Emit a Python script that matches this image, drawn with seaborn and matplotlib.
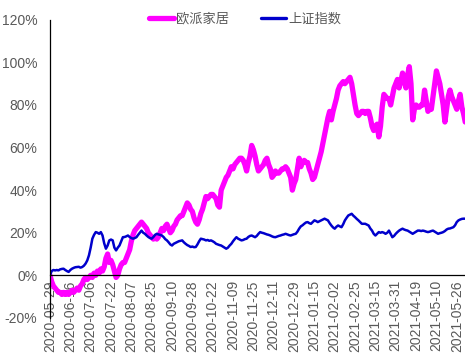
import matplotlib
matplotlib.use("Agg")
import matplotlib.pyplot as plt
import seaborn as sns
import pandas as pd
import numpy as np

# 欧派家居 cumulative return (%) per trading day
oupai = [
    0, -3, -5, -6, -7, -8, -8, -9, -8, -9,
    -8, -9, -8, -7, -8, -7, -6, -7, -5, -4,
    -2, -1, -2, -1, 0, -1, 1, 0, 2, 1,
    3, 2, 4, 8, 10, 6, 7, 5, 2, -1,
    0, 3, 5, 6, 6, 8, 10, 12, 16, 19,
    21, 22, 23, 24, 25, 24, 23, 22, 20, 19,
    18, 17, 18, 17, 18, 20, 22, 21, 23, 24,
    22, 20, 21, 23, 24, 26, 27, 28, 28, 30,
    32, 34, 33, 31, 30, 27, 25, 24, 26, 29,
    31, 34, 37, 36, 37, 38, 38, 37, 36, 33,
    32, 40, 42, 44, 46, 47, 49, 51, 50, 52,
    53, 54, 55, 55, 54, 52, 49, 53, 56, 61,
    59, 56, 52, 49, 50, 51, 52, 54, 55, 52,
    50, 46, 47, 49, 48, 48, 49, 50, 50, 51,
    50, 48, 46, 40, 43, 45, 50, 55, 51, 53,
    54, 53, 53, 50, 48, 45, 46, 49, 52, 55,
    58, 62, 66, 70, 74, 77, 73, 77, 80, 83,
    87, 89, 90, 91, 90, 91, 92, 93, 90, 85,
    80, 76, 75, 76, 77, 77, 76, 77, 77, 74,
    70, 68, 70, 71, 65, 70, 79, 85, 84, 83,
    83, 80, 84, 88, 90, 92, 88, 91, 95, 92,
    88, 94, 98, 90, 73, 78, 80, 79, 79, 80,
    80, 87, 82, 77, 78, 78, 84, 90, 96, 93,
    90, 85, 80, 72, 78, 84, 87, 84, 82, 80,
    78, 82, 85, 79, 76, 72,
]

# 上证指数 cumulative return (%) per trading day
shindex = [
    0, 2, 2.5, 2.3, 2.5, 2.3, 2.8, 3, 3.1, 2.5,
    2, 1.6, 2.5, 3.1, 3.5, 3.8, 3.9, 4, 3.6, 3.9,
    4.5, 5.5, 7, 9.4, 13, 17.2, 19, 20.3, 20, 19.5,
    20.3, 18.7, 15, 12.5, 14, 16.4, 16.8, 16.4, 13, 11.7,
    13, 14, 16, 17.9, 18, 18.3, 18.7, 18, 17.5, 17.2,
    17.5, 17.9, 19, 20, 21, 20, 19.5, 18.7, 18, 17.5,
    17.2, 18, 19, 19.5, 19.2, 19, 18.7, 18, 17, 16.4,
    15.5, 14.5, 14, 14.8, 15.2, 15.6, 16, 16.2, 16.4, 15.5,
    14.8, 14.2, 13.8, 13.3, 13.5, 13.2, 13.3, 14.5, 16, 17.2,
    17, 16.8, 16.4, 16.6, 16.2, 16.4, 16, 15.5, 14.8, 14.5,
    14.2, 14, 13.5, 13, 12.5, 13, 14, 14.8, 16, 17,
    17.9, 17.2, 16.8, 16.4, 16.6, 17, 17.2, 18, 18.5, 18.7,
    18.3, 17.9, 18.5, 19.5, 20.3, 20, 19.8, 19.5, 19.2, 19,
    18.7, 18.3, 18, 17.9, 18.2, 18.5, 18.7, 19, 19.2, 19.5,
    19.2, 18.9, 18.7, 19, 19.3, 19.5, 20.5, 21.9, 23, 23.5,
    24.2, 24.8, 25, 24.5, 24.2, 25, 25.8, 25.5, 25, 25.4,
    25.8, 26.2, 26.6, 26.2, 25.8, 24.5, 23.4, 22.5, 21.9, 22.8,
    23.4, 23, 22.6, 24, 25.8, 27, 28.1, 28.5, 28.9, 28,
    27.3, 26.5, 25.8, 25, 24.2, 24.2, 24.2, 23.8, 23.4, 22,
    21, 19.5, 18.7, 19.5, 20.3, 20, 20.3, 20, 19.5, 20,
    21, 19.5, 17.9, 18.5, 19.5, 20.3, 21, 21.5, 21.9, 21.5,
    21.2, 21, 20.5, 20, 19.5, 20, 20.5, 21, 21, 20.8,
    21, 20.8, 20.5, 20.3, 20.5, 20.8, 21, 20.5, 20, 19.5,
    19.8, 20, 20.3, 20.8, 21.5, 21.9, 22, 22.3, 22.6, 23.5,
    25, 25.8, 26.2, 26.5, 26.6, 26.6,
]

tick_labels = [
    "2020-05-29", "2020-06-16", "2020-07-06", "2020-07-22", "2020-08-07",
    "2020-08-25", "2020-09-10", "2020-09-28", "2020-10-22", "2020-11-09",
    "2020-11-25", "2020-12-11", "2020-12-29", "2021-01-15", "2021-02-02",
    "2021-02-25", "2021-03-15", "2021-03-31", "2021-04-19", "2021-05-10",
    "2021-05-26",
]
tick_step = 12
series_names = ["欧派家居", "上证指数"]
y_ticks = [-20, 0, 20, 40, 60, 80, 100, 120]

n = len(oupai)
df = pd.DataFrame({
    "day": list(range(n)) * 2,
    "value": oupai + shindex,
    "name": [series_names[0]] * n + [series_names[1]] * n,
})

sns.set_theme(style="white")
plt.rcParams["font.family"] = ["Liberation Sans", "Noto Sans CJK SC", "DejaVu Sans"]

fig = plt.figure(figsize=(4.65, 3.54), dpi=100)
ax = fig.add_axes([0.1075, 0.102, 0.893, 0.842])

palette = {series_names[0]: "#FF00FF", series_names[1]: "#0000CC"}
sns.lineplot(data=df[df["name"] == series_names[0]], x="day", y="value",
             color=palette[series_names[0]], linewidth=3.8, ax=ax,
             label=series_names[0])
sns.lineplot(data=df[df["name"] == series_names[1]], x="day", y="value",
             color=palette[series_names[1]], linewidth=1.8, ax=ax,
             label=series_names[1])

ax.set_xlim(0, n - 1)
ax.set_ylim(-20, 120)
ax.set_yticks(y_ticks)
ax.set_yticklabels([f"{v}%" for v in y_ticks])
ax.set_xticks(list(range(0, tick_step * len(tick_labels), tick_step)))
ax.set_xticklabels(tick_labels)
ax.set_xlabel("")
ax.set_ylabel("")

for s in ["top", "right"]:
    ax.spines[s].set_visible(False)
ax.spines["bottom"].set_position(("data", 0))
ax.spines["bottom"].set_color("#000000")
ax.spines["left"].set_color("#000000")
ax.spines["bottom"].set_linewidth(0.9)
ax.spines["left"].set_linewidth(0.9)
ax.tick_params(axis="x", direction="inout", length=5, width=0.8, color="#000000",
               labelsize=10, labelcolor="#595959", pad=1, labelrotation=90)
ax.tick_params(axis="y", direction="out", length=3, width=0.8, color="#000000",
               labelsize=10, labelcolor="#595959", pad=6)
for lbl in ax.get_xticklabels():
    lbl.set_rotation(90)
    lbl.set_va("top")
    lbl.set_ha("center")
ax.grid(False)

ax.legend_.remove()
handles, labels = ax.get_legend_handles_labels()
leg = fig.legend(handles, labels, loc="center", bbox_to_anchor=(0.527, 0.945),
                 ncol=2, frameon=False, handlelength=1.9, handletextpad=0.15,
                 columnspacing=2.4,
                 prop={"family": ["Noto Sans CJK SC", "DejaVu Sans"], "size": 9.5})
leg.get_lines()[1].set_linewidth(2.4)
for t in leg.get_texts():
    t.set_color("#595959")

fig.savefig("out.png", dpi=100, facecolor="white")
